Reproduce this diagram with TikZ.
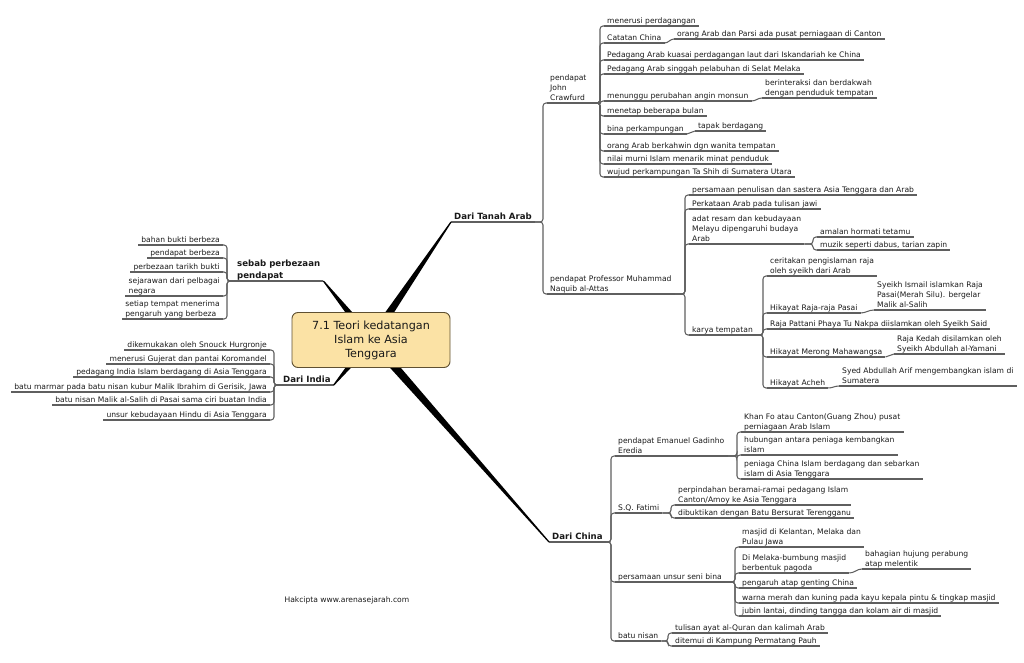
\documentclass[tikz,border=0pt]{standalone}
\usepackage{fontspec}
\setmainfont{DejaVu Sans}
\usetikzlibrary{calc}

\definecolor{lineg}{RGB}{95,95,95}
\definecolor{txt}{RGB}{25,25,25}
\definecolor{boxfill}{RGB}{251,226,165}
\definecolor{boxline}{RGB}{95,80,50}

\tikzset{
    uline/.style={draw=lineg, line width=1.05pt},
    conn/.style={draw=lineg, line width=1.05pt, rounded corners=3pt},
    topic/.style={anchor=south west, inner xsep=3pt, inner ysep=0.6pt, align=left, text=txt,
        font=\fontsize{7.6}{10}\selectfont,
        execute at end node={\rule[-1.3pt]{0pt}{1.3pt}},
        append after command={(\tikzlastnode.south west) edge[uline] (\tikzlastnode.south east)}},
    ltopic/.style={topic, anchor=south east},
    maintopic/.style={topic, font=\fontsize{8.6}{12}\selectfont\bfseries},
    centre/.style={draw=boxline, fill=boxfill, line width=0.9pt, rounded corners=6pt,
        minimum width=158pt, minimum height=55pt, align=center, text=txt,
        font=\fontsize{11.2}{14}\selectfont}
}

% ramo che si assottiglia verso l'argomento
\newcommand{\tapered}[2]{\fill[black] ($(#1)!4.6pt!90:(#2)$) -- ($(#2)!0.6pt!-90:(#1)$) -- ($(#2)!0.6pt!90:(#1)$) -- ($(#1)!4.6pt!-90:(#2)$) -- cycle;}

\begin{document}
\begin{tikzpicture}[x=1pt,y=-1pt]
        \useasboundingbox (0,0) rectangle (1024,663);
        \coordinate (ctr) at (371,340);

        %%%%%%%%% Dari Tanah Arab %%%%%%%%%
        \node[maintopic] (dta) at (451,222) {Dari Tanah Arab};
        \node[topic] (crawf) at (547,103) {pendapat\\John\\Crawfurd};
        \node[topic] (cr1) at (604,26) {menerusi perdagangan};
        \node[topic] (cr2) at (604,43) {Catatan China};
        \node[topic] (cr2a) at (674,39) {orang Arab dan Parsi ada pusat perniagaan di Canton};
        \node[topic] (cr3) at (604,60) {Pedagang Arab kuasai perdagangan laut dari Iskandariah ke China};
        \node[topic] (cr4) at (604,74) {Pedagang Arab singgah pelabuhan di Selat Melaka};
        \node[topic] (cr5) at (604,101) {menunggu perubahan angin monsun};
        \node[topic] (cr5a) at (762,98) {berinteraksi dan berdakwah\\dengan penduduk tempatan};
        \node[topic] (cr6) at (604,116) {menetap beberapa bulan};
        \node[topic] (cr7) at (604,134) {bina perkampungan};
        \node[topic] (cr7a) at (695,131) {tapak berdagang};
        \node[topic] (cr8) at (604,151) {orang Arab berkahwin dgn wanita tempatan};
        \node[topic] (cr9) at (604,164) {nilai murni Islam menarik minat penduduk};
        \node[topic] (cr10) at (604,177) {wujud perkampungan Ta Shih di Sumatera Utara};

        \node[topic] (naquib) at (547,294) {pendapat Professor Muhammad\\Naquib al-Attas};
        \node[topic] (nq1) at (689,195) {persamaan penulisan dan sastera Asia Tenggara dan Arab};
        \node[topic] (nq2) at (689,209) {Perkataan Arab pada tulisan jawi};
        \node[topic] (nq3) at (689,244) {adat resam dan kebudayaan\\Melayu dipengaruhi budaya\\Arab};
        \node[topic] (nq3a) at (817,237) {amalan hormati tetamu};
        \node[topic] (nq3b) at (817,250) {muzik seperti dabus, tarian zapin};
        \node[topic] (nq4) at (689,335) {karya tempatan};
        \node[topic] (ky1) at (767,276) {ceritakan pengislaman raja\\oleh syeikh dari Arab};
        \node[topic] (ky2) at (767,313) {Hikayat Raja-raja Pasai};
        \node[topic] (ky2a) at (874,310) {Syeikh Ismail islamkan Raja\\Pasai(Merah Silu). bergelar\\Malik al-Salih};
        \node[topic] (ky3) at (767,329) {Raja Pattani Phaya Tu Nakpa diislamkan oleh Syeikh Said};
        \node[topic] (ky4) at (767,357) {Hikayat Merong Mahawangsa};
        \node[topic] (ky4a) at (894,354) {Raja Kedah disilamkan oleh\\Syeikh Abdullah al-Yamani};
        \node[topic] (ky5) at (767,388) {Hikayat Acheh};
        \node[topic] (ky5a) at (839,386) {Syed Abdullah Arif mengembangkan islam di\\Sumatera};

        \foreach \a/\b in {dta/crawf,dta/naquib,crawf/cr1,crawf/cr2,crawf/cr3,crawf/cr4,crawf/cr5,
                crawf/cr6,crawf/cr7,crawf/cr8,crawf/cr9,crawf/cr10,
                naquib/nq1,naquib/nq2,naquib/nq3,naquib/nq4,nq3/nq3a,nq3/nq3b,
                nq4/ky1,nq4/ky2,nq4/ky3,nq4/ky4,nq4/ky5}
            \draw[conn] (\a.south east) -| ($(\b.south west)+(-4,0)$) -- (\b.south west);

        %%%%%%%%% Dari China %%%%%%%%%
        \node[maintopic] (china) at (549,542) {Dari China};
        \node[topic] (ere) at (615,456) {pendapat Emanuel Gadinho\\Eredia};
        \node[topic] (er1) at (741,432) {Khan Fo atau Canton(Guang Zhou) pusat\\perniagaan Arab Islam};
        \node[topic] (er2) at (741,455) {hubungan antara peniaga kembangkan\\islam};
        \node[topic] (er3) at (741,479) {peniaga China Islam berdagang dan sebarkan\\islam di Asia Tenggara};
        \node[topic] (fat) at (615,513) {S.Q. Fatimi};
        \node[topic] (ft1) at (675,505) {perpindahan beramai-ramai pedagang Islam\\Canton/Amoy ke Asia Tenggara};
        \node[topic] (ft2) at (675,518) {dibuktikan dengan Batu Bersurat Terengganu};
        \node[topic] (seni) at (615,582) {persamaan unsur seni bina};
        \node[topic] (sb1) at (739,547) {masjid di Kelantan, Melaka dan\\Pulau Jawa};
        \node[topic] (sb2) at (739,573) {Di Melaka-bumbung masjid\\berbentuk pagoda};
        \node[topic] (sb2a) at (862,569) {bahagian hujung perabung\\atap melentik};
        \node[topic] (sb3) at (739,588) {pengaruh atap genting China};
        \node[topic] (sb4) at (739,603) {warna merah dan kuning pada kayu kepala pintu \& tingkap masjid};
        \node[topic] (sb5) at (739,616) {jubin lantai, dinding tangga dan kolam air di masjid};
        \node[topic] (nisan) at (615,641) {batu nisan};
        \node[topic] (bn1) at (672,633) {tulisan ayat al-Quran dan kalimah Arab};
        \node[topic] (bn2) at (672,646) {ditemui di Kampung Permatang Pauh};

        \foreach \a/\b in {china/ere,china/fat,china/seni,china/nisan,ere/er1,ere/er2,ere/er3,
                fat/ft1,fat/ft2,seni/sb1,seni/sb2,seni/sb3,seni/sb4,seni/sb5,
                nisan/bn1,nisan/bn2}
            \draw[conn] (\a.south east) -| ($(\b.south west)+(-4,0)$) -- (\b.south west);

        % figli unici: piccola curva
        \foreach \a/\b in {cr2/cr2a,cr5/cr5a,cr7/cr7a,ky2/ky2a,ky4/ky4a,ky5/ky5a,sb2/sb2a}
            \draw[conn] (\a.south east) to[out=0,in=180] (\b.south west);

        %%%%%%%%% Sebab perbezaan %%%%%%%%%
        \node[maintopic] (sebab) at (234,281) {sebab perbezaan\\pendapat};
        \node[ltopic] (sp1) at (223,245) {bahan bukti berbeza};
        \node[ltopic] (sp2) at (223,258) {pendapat berbeza};
        \node[ltopic] (sp3) at (223,272) {perbezaan tarikh bukti};
        \node[ltopic] (sp4) at (223,296) {sejarawan dari pelbagai\\negara};
        \node[ltopic] (sp5) at (223,319) {setiap tempat menerima\\pengaruh yang berbeza};

        %%%%%%%%% Dari India %%%%%%%%%
        \node[maintopic] (india) at (280,385) {Dari India};
        \node[ltopic] (in1) at (270,350) {dikemukakan oleh Snouck Hurgronje};
        \node[ltopic] (in2) at (270,364) {menerusi Gujerat dan pantai Koromandel};
        \node[ltopic] (in3) at (270,377) {pedagang India Islam berdagang di Asia Tenggara};
        \node[ltopic] (in4) at (270,392) {batu marmar pada batu nisan kubur Malik Ibrahim di Gerisik, Jawa};
        \node[ltopic] (in5) at (270,405) {batu nisan Malik al-Salih di Pasai sama ciri buatan India};
        \node[ltopic] (in6) at (270,420) {unsur kebudayaan Hindu di Asia Tenggara};

        \foreach \a/\b in {sebab/sp1,sebab/sp2,sebab/sp3,sebab/sp4,sebab/sp5,
                india/in1,india/in2,india/in3,india/in4,india/in5,india/in6}
            \draw[conn] (\a.south west) -| ($(\b.south east)+(4,0)$) -- (\b.south east);

        %%%%%%%%% Rami principali %%%%%%%%%
        \tapered{ctr}{dta.south west}
        \tapered{ctr}{china.south west}
        \tapered{ctr}{sebab.south east}
        \tapered{ctr}{india.south east}

        %%%%%%%%% Centro %%%%%%%%%
        \node[centre] (title) at (ctr) {7.1 Teori kedatangan\\Islam ke Asia\\Tenggara};

        \node[anchor=west, text=txt, font=\fontsize{7.6}{10}\selectfont] (hak) at (281,600) {Hakcipta www.arenasejarah.com};
\end{tikzpicture}
\end{document}
